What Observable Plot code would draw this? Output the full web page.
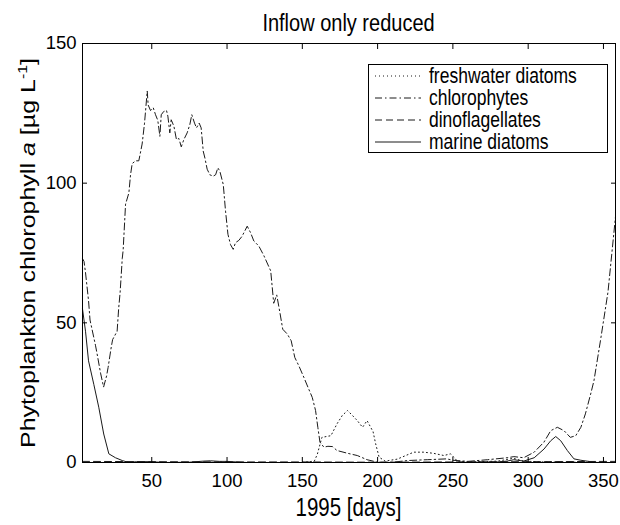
<!DOCTYPE html>
<html><head><meta charset="utf-8">
<script src="https://cdn.jsdelivr.net/npm/d3@7"></script>
<script src="https://cdn.jsdelivr.net/npm/@observablehq/plot@0.6"></script>
<style>
body{margin:0;background:#fff;}
svg{font-family:"Liberation Sans",Arial,sans-serif;}
</style>
</head><body><div id="chart"></div>
<script>
const seriesNames = ["freshwater diatoms", "chlorophytes", "dinoflagellates", "marine diatoms"];
const xTicks = [50, 100, 150, 200, 250, 300, 350];
const yTicks = [0, 50, 100, 150];

const freshDays = [4, 150, 158, 160, 163, 169, 173, 176.5, 180, 183, 186.5, 190, 193, 197, 198.7, 201, 205, 213, 224, 230.5, 237, 244, 248.5, 253, 260, 280, 290, 297, 310, 358];
const freshVals = [0, 0, 0.5, 3, 9, 9.6, 13.8, 16.8, 18.6, 17, 15, 12.6, 15, 11, 6.7, 1.9, 0.5, 1.2, 3.7, 3.7, 3.3, 2.5, 3.1, 0.5, 0.2, 0.5, 1.5, 0.5, 0.2, 0];

const chloroDays = [4, 5, 6, 8, 9, 11, 12.6, 14, 16, 18, 20, 21, 23, 24, 26, 27, 28, 29, 30.4, 31, 32.6, 34.8, 35.9, 37, 39.2, 41.4, 43.6, 45.2, 47, 47.6, 49.2, 51, 52.5, 54, 55.4, 56.3, 58, 59.8, 60.7, 62, 62.9, 64.7, 66.4, 68, 69.6, 71.3, 73.5, 75.3, 76.6, 78.4, 79.7, 81.5, 82.8, 84.2, 85.3, 86.8, 88.6, 90.8, 92.4, 93.9, 95.2, 97.5, 99, 100.6, 102.3, 104.1, 105.6, 107.8, 110, 113.4, 115.6, 117.8, 121.1, 124.5, 129, 131, 133, 135, 137, 140, 142.6, 145, 147.7, 151, 153.7, 156.6, 158.8, 160.3, 161.7, 164.3, 167, 170, 173, 180, 186.5, 193, 200, 210, 220, 233, 246, 250, 260, 273, 286, 290.5, 297, 304, 310.5, 315, 319.4, 323.8, 328, 331.6, 335, 338, 341.5, 343.7, 348, 353, 358];
const chloroVals = [73, 72, 68, 58, 51, 46, 42, 38, 32, 27, 31, 34, 41, 44, 46, 47, 55, 61, 73, 76, 92.5, 96.5, 103, 107, 108, 108, 114, 121.5, 133, 128, 126, 127, 124.5, 122.5, 116.8, 124.5, 125.7, 126, 124, 118, 122.7, 120.4, 115.6, 116, 113, 115.6, 118, 121, 124.5, 121.5, 119.8, 121.5, 119.8, 111.4, 109, 105, 103, 102.5, 103, 105.5, 104.3, 99.5, 90, 81.7, 78, 76.3, 78.7, 79.5, 81, 84.6, 82.3, 79.3, 77.5, 74, 68.6, 57, 60, 54, 47.7, 46, 43.6, 37.6, 34.6, 30.5, 27, 23.3, 18.6, 12.6, 7.3, 5.5, 5.8, 5.7, 4.3, 3.3, 2.5, 1, 0.1, 0.1, 0.7, 1, 1.3, 0.8, 0.4, 1, 1.7, 2.1, 1.7, 3.7, 7.3, 11.4, 12.6, 11.4, 9, 9.6, 12.6, 17.4, 24.5, 29.3, 43.6, 61, 88];

const dinoDays = [4, 50, 100, 150, 200, 250, 300, 358];
const dinoVals = [0.4, 0.3, 0.2, 0.2, 0.1, 0.2, 0.3, 0.4];

const marineDays = [4, 6, 8, 11.5, 14.8, 18.1, 21.5, 25.9, 30.4, 34.8, 40, 48, 59, 75, 84.6, 89, 95, 100, 106, 113, 150, 200, 250, 280, 286, 290.5, 297, 304, 310.5, 315, 318.3, 321.6, 326, 330.4, 335, 341.5, 346, 358];
const marineVals = [55, 47, 36.4, 28, 19.8, 10.2, 3.1, 1.7, 0.7, 0, 0.3, 0.3, 0, 0.1, 0.5, 0.6, 0.4, 0.4, 0.2, 0, 0, 0, 0, 0.2, 0.5, 1, 0.5, 1.7, 4.8, 7.8, 9.3, 7.8, 4.3, 1.3, 0.8, 0.3, 0, 0];

const dashes = {"freshwater diatoms": "1,3", "chlorophytes": "7,3,1.5,3", "dinoflagellates": "7,4", "marine diatoms": null};
const inkColor = "#1a1a1a";
const stretch = 1.22; // the reference's text is stretched vertically

function toRows(name, days, vals) { return days.map((d, i) => ({series: name, day: d, value: vals[i]})); }
const rows = [
  ...toRows(seriesNames[0], freshDays, freshVals),
  ...toRows(seriesNames[1], chloroDays, chloroVals),
  ...toRows(seriesNames[2], dinoDays, dinoVals),
  ...toRows(seriesNames[3], marineDays, marineVals)
];

const lineMarks = seriesNames.map(name => Plot.line(rows.filter(r => r.series === name), {
  x: "day", y: "value", stroke: inkColor, strokeWidth: 1, strokeDasharray: dashes[name] || undefined
}));

const plot = Plot.plot({
  width: 620, height: 525,
  marginLeft: 82, marginRight: 5, marginTop: 43, marginBottom: 63,
  x: {domain: [4, 358]},
  y: {domain: [0, 150]},
  style: {fontFamily: "'Liberation Sans', Arial, sans-serif", fontSize: "16px", color: "#000", background: "#fff", overflow: "visible"},
  marks: [
    ...lineMarks.reverse(),
    Plot.frame({stroke: "#000", strokeWidth: 1}),
    Plot.axisX({ticks: xTicks, tickSize: 0, tickPadding: 11, label: null, fontSize: 18.5, ariaLabel: "xlabels"}),
    Plot.axisX({ticks: xTicks, tickSize: -5, text: null, label: null}),
    Plot.axisX({anchor: "top", ticks: xTicks, tickSize: -5, text: null, label: null}),
    Plot.axisY({ticks: yTicks, tickSize: 0, tickPadding: 6, label: null, fontSize: 18.5, ariaLabel: "ylabels"}),
    Plot.axisY({ticks: yTicks, tickSize: -5, text: null, label: null}),
    Plot.axisY({anchor: "right", ticks: yTicks, tickSize: -5, text: null, label: null})
  ]
});
document.getElementById("chart").appendChild(plot);

const svg = d3.select(plot);
// stretch tick labels vertically like the reference
svg.selectAll("g[aria-label='xlabels'] text, g[aria-label='ylabels'] text").each(function() {
  const t = d3.select(this);
  t.attr("transform", (t.attr("transform") || "") + ` scale(1,${stretch})`);
});

function addText(x, y, size, str, anchor) {
  return svg.append("text").attr("transform", `translate(${x},${y}) scale(1,${stretch})`)
    .attr("text-anchor", anchor).style("font-size", size + "px").attr("fill", "#000").text(str);
}
addText(348.5, 31, 20, "Inflow only reduced", "middle");
addText(348.5, 516, 20.5, "1995 [days]", "middle");

// y label
const yl = svg.append("text").attr("transform", `translate(35,253) scale(1,${stretch}) rotate(-90)`)
  .attr("text-anchor", "middle").style("font-size", "20.5px").attr("fill", "#000");
yl.append("tspan").text("Phytoplankton chlorophyll ");
yl.append("tspan").attr("font-style", "italic").text("a");
yl.append("tspan").text(" [µg L");
yl.append("tspan").style("font-size", "13px").attr("dy", -8).text("-1");
yl.append("tspan").attr("dy", 8).text("]");

// legend
const lg = svg.append("g").attr("text-anchor", "start");
lg.append("rect").attr("x", 368.5).attr("y", 64.5).attr("width", 239).attr("height", 88)
  .attr("fill", "#fff").attr("stroke", "#000");
seriesNames.forEach((name, i) => {
  const cy = 76 + i * 22;
  lg.append("line").attr("x1", 375).attr("x2", 421).attr("y1", cy).attr("y2", cy)
    .attr("stroke", inkColor).attr("stroke-width", 1).attr("stroke-dasharray", dashes[name] || null);
  lg.append("text").attr("transform", `translate(429,${cy}) scale(1,${stretch})`).attr("dy", "0.35em")
    .style("font-size", "17.5px").attr("text-anchor", "start").attr("fill", "#000").text(name);
});
</script>
</body></html>
